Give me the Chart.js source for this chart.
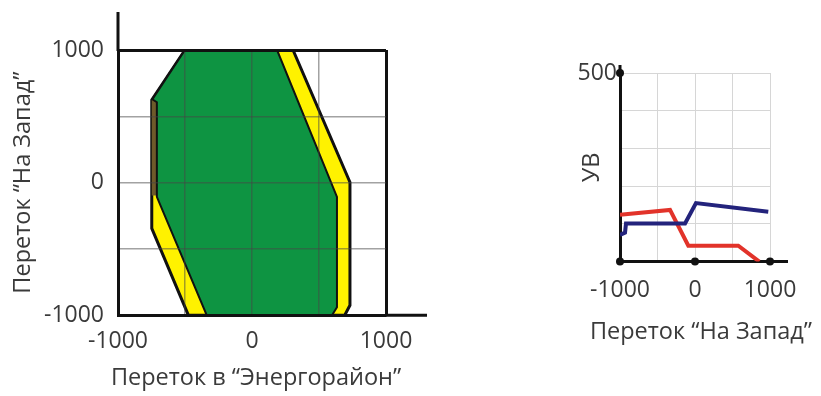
<!DOCTYPE html>
<html>
<head>
<meta charset="utf-8">
<script src="https://cdn.jsdelivr.net/npm/chart.js@4"></script>
<style>
  body { margin: 0; background: #fff; }
  #wrap { position: relative; width: 821px; height: 396px; }
  #left { position: absolute; left: 0; top: 0; }
  #right { position: absolute; left: 560px; top: 0; }
</style>
</head>
<body>
<div id="wrap">
  <canvas id="left" width="512" height="396"></canvas>
  <canvas id="right" width="261" height="396"></canvas>
</div>
<script>
// left chart: operating region, values in MW
const outerX = [-500, 306, 731, 731, 692, -475, -748, -748, -500];
const outerY = [1000, 1000, 3, -925, -1000, -1000, -345, 623, 1000];
const brownX = [-748, -705, -705, -748];
const brownY = [623, 623, -98, -98];
const innerX = [-500, 187, 634, 634, 597, -338, -710, -710, -744, -500];
const innerY = [1000, 1000, -108, -940, -1000, -1000, -108, 606, 628, 1000];
const leftTicks = [-1000, 0, 1000];

// right chart: УВ vs переток
const redX = [-1000, -333, -89, 577, 857];
const redY = [124, 137, 42, 42, 0];
const blueX = [-1000, -933, -920, -133, 13, 977];
const blueY = [71, 77, 101, 101, 155, 132];
const dotX = [-1000, 0, 1000, -1000];
const dotY = [0, 0, 0, 500];
const rightXTicks = [-1000, 0, 1000];
const rightYTicks = [500];

const font = "'Open Sans', sans-serif";
const textColor = "#3a3a3a";
const tickFont = {family: font, size: 23};
const titleFont = {family: font, size: 23.5, weight: 'normal'};

function pts(xs, ys) {
  return xs.map((x, i) => ({x: x, y: ys[i]}));
}

// draws the axis lines on past the plot box
function axisExtension(xTo, yTo) {
  return {
    id: 'axisExt',
    afterDraw(chart) {
      const {ctx, chartArea, scales} = chart;
      ctx.save();
      ctx.strokeStyle = '#111';
      ctx.lineWidth = 3;
      ctx.beginPath();
      ctx.moveTo(chartArea.left, chartArea.top + 1);
      ctx.lineTo(chartArea.left, scales.y.getPixelForValue(yTo));
      ctx.moveTo(chartArea.right - 1, chartArea.bottom);
      ctx.lineTo(scales.x.getPixelForValue(xTo), chartArea.bottom);
      ctx.stroke();
      ctx.restore();
    }
  };
}

// empty right-hand axis, only keeps room on the right
function spacer(w) {
  return {
    type: 'linear', position: 'right', display: true,
    afterFit: s => { s.width = w; },
    ticks: {display: false}, grid: {display: false}, border: {display: false}
  };
}

const gridW = c => c.tick && c.tick.value === 1000 ? 3 : 1.5;
const gridC = c => c.tick && c.tick.value === 1000 ? '#111' : (c.tick && c.tick.value === -1000 ? 'rgba(0,0,0,0)' : 'rgba(70,70,70,0.5)');

new Chart(document.getElementById('left'), {
  type: 'scatter',
  data: {
    datasets: [
      {data: pts(innerX, innerY), showLine: true, fill: 'shape', backgroundColor: '#0e9442', borderColor: '#111', borderWidth: 2, pointRadius: 0},
      {data: pts(brownX, brownY), showLine: true, fill: 'shape', backgroundColor: '#6e5a2a', borderColor: 'rgba(0,0,0,0)', borderWidth: 0, pointRadius: 0},
      {data: pts(outerX, outerY), showLine: true, fill: 'shape', backgroundColor: '#fff200', borderColor: '#111', borderWidth: 3, pointRadius: 0}
    ]
  },
  options: {
    responsive: false,
    animation: false,
    layout: {padding: {top: 50, right: 0, bottom: 0, left: 0}},
    plugins: {
      legend: {display: false},
      tooltip: {enabled: false},
      title: {display: true, position: 'bottom', text: 'Переток в “Энергорайон”', color: textColor, font: titleFont, padding: {top: 0, bottom: 4}}
    },
    scales: {
      x: {
        type: 'linear', min: -1000, max: 1000,
        afterFit: s => { s.height = 48.6; },
        ticks: {stepSize: 500, padding: 12, maxRotation: 0, autoSkip: false, color: textColor, font: tickFont,
          callback: v => leftTicks.includes(v) ? String(v) : ''},
        grid: {z: 1, drawTicks: false, lineWidth: gridW, color: gridC},
        border: {color: '#111', width: 3, z: 1}
      },
      y: {
        type: 'linear', min: -1000, max: 1000,
        afterFit: s => { s.width = 118; },
        ticks: {stepSize: 500, padding: 14, color: textColor, font: tickFont,
          callback: v => leftTicks.includes(v) ? String(v) : ''},
        grid: {z: 1, drawTicks: false, lineWidth: gridW, color: gridC},
        border: {color: '#111', width: 3, z: 1},
        title: {display: true, text: 'Переток “На Запад”', color: textColor, font: titleFont, padding: {top: 9}}
      },
      spacer: spacer(126)
    }
  },
  plugins: [axisExtension(1306, 1287)]
});

new Chart(document.getElementById('right'), {
  type: 'scatter',
  data: {
    datasets: [
      {data: pts(dotX, dotY), pointRadius: 4, pointBackgroundColor: '#111', pointBorderWidth: 0, clip: false},
      {data: pts(blueX, blueY), showLine: true, borderColor: '#23237c', borderWidth: 4, pointRadius: 0},
      {data: pts(redX, redY), showLine: true, borderColor: '#e2332a', borderWidth: 4, pointRadius: 0}
    ]
  },
  options: {
    responsive: false,
    animation: false,
    layout: {padding: {top: 73, right: 9, bottom: 0, left: 0}},
    plugins: {
      legend: {display: false},
      tooltip: {enabled: false},
      title: {display: true, position: 'bottom', align: 'end', text: 'Переток “На Запад”', color: textColor, font: titleFont, padding: {top: 0, bottom: 49.6}}
    },
    scales: {
      x: {
        type: 'linear', min: -1000, max: 1000,
        afterFit: s => { s.height = 56.6; },
        ticks: {stepSize: 500, padding: 15, maxRotation: 0, autoSkip: false, color: textColor, font: tickFont,
          callback: v => rightXTicks.includes(v) ? String(v) : ''},
        grid: {drawTicks: false, color: '#d6d6d6', lineWidth: 1},
        border: {color: '#111', width: 3}
      },
      y: {
        type: 'linear', min: 0, max: 500,
        afterFit: s => { s.width = 60; },
        ticks: {stepSize: 50, padding: 3, color: textColor, font: tickFont,
          callback: v => rightYTicks.includes(v) ? String(v) : ''},
        grid: {drawTicks: false, color: '#d6d6d6', lineWidth: 1},
        border: {color: '#111', width: 3},
        title: {display: true, text: 'УВ', color: textColor, font: titleFont, padding: {top: 18.6}}
      },
      spacer: spacer(42)
    }
  },
  plugins: [axisExtension(1240, 521)]
});
</script>
</body>
</html>
